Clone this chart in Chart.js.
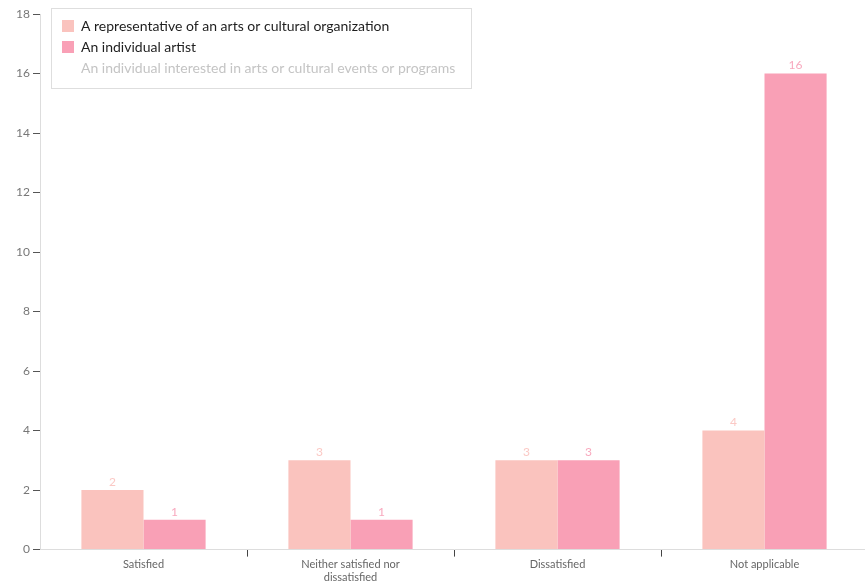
<!DOCTYPE html>
<html>
<head>
<meta charset="utf-8">
<script src="https://cdn.jsdelivr.net/npm/chart.js@4/dist/chart.umd.min.js"></script>
<style>
  html, body { margin: 0; padding: 0; background: #fff; overflow: hidden; }
  #wrap { position: relative; width: 868px; height: 585px; }
</style>
</head>
<body>
<div id="wrap"><canvas id="chart"></canvas></div>
<script>
// Survey responses by respondent type
const categories = ['Satisfied', ['Neither satisfied nor', 'dissatisfied'], 'Dissatisfied', 'Not applicable'];
const seriesNames = [
  'A representative of an arts or cultural organization',
  'An individual artist',
  'An individual interested in arts or cultural events or programs'
];
const orgValues = [2, 3, 3, 4];
const artistValues = [1, 1, 3, 16];
const interestedValues = [null, null, null, null];
const yTicks = [0, 2, 4, 6, 8, 10, 12, 14, 16, 18];

const barColors = ['#FAC3BE', '#F9A0B6', '#D9D9D9'];
const labelColors = ['#FBC9C5', '#F8A9BE', '#CCCCCC'];
const FONT = 'Lato';

// Framed panel behind the legend, and legend placed inside the plot
const legendPanel = {
  id: 'legendPanel',
  afterLayout(chart) {
    const lg = chart.legend;
    const w = lg.width, h = lg.height;
    lg.left = 55; lg.top = 12;
    lg.right = lg.left + w; lg.bottom = lg.top + h;
  },
  beforeDraw(chart) {
    const ctx = chart.ctx;
    ctx.save();
    ctx.fillStyle = '#ffffff';
    ctx.strokeStyle = '#dedede';
    ctx.lineWidth = 1;
    ctx.fillRect(51, 8, 420, 80);
    ctx.strokeRect(51.5, 8.5, 420, 80);
    ctx.restore();
  }
};

// Value labels above each bar
const valueLabels = {
  id: 'valueLabels',
  afterDatasetsDraw(chart) {
    const ctx = chart.ctx;
    ctx.save();
    ctx.font = '12px ' + FONT;
    ctx.textAlign = 'center';
    ctx.textBaseline = 'bottom';
    chart.data.datasets.forEach((ds, di) => {
      const meta = chart.getDatasetMeta(di);
      if (meta.hidden || !chart.isDatasetVisible(di)) return;
      meta.data.forEach((el, i) => {
        const v = ds.data[i];
        if (v === null || v === undefined) return;
        ctx.fillStyle = labelColors[di];
        ctx.fillText(String(v), el.x, el.y - 2);
      });
    });
    ctx.restore();
  }
};

const ctx = document.getElementById('chart');
new Chart(ctx, {
  type: 'bar',
  data: {
    labels: categories,
    datasets: [
      { label: seriesNames[0], data: orgValues, backgroundColor: barColors[0] },
      { label: seriesNames[1], data: artistValues, backgroundColor: barColors[1] },
      { label: seriesNames[2], data: interestedValues, backgroundColor: barColors[2], hidden: true }
    ]
  },
  options: {
    responsive: true,
    maintainAspectRatio: false,
    animation: false,
    layout: { padding: { left: 0, right: 0, top: 14, bottom: 0 } },
    datasets: { bar: { categoryPercentage: 0.6, barPercentage: 1.0, borderWidth: 0 } },
    scales: {
      x: {
        grid: {
          display: true,
          drawOnChartArea: false,
          offset: true,
          tickLength: 7,
          tickColor: (c) => (c.index === 0 ? 'rgba(0,0,0,0)' : '#444444')
        },
        border: { display: true, color: '#dddddd', width: 1 },
        ticks: {
          color: '#666666',
          font: { family: FONT, size: 11 },
          padding: 1,
          maxRotation: 0,
          autoSkip: false
        }
      },
      y: {
        min: 0,
        max: 18,
        afterBuildTicks: (s) => { s.ticks = yTicks.map(v => ({ value: v })); },
        afterFit: (s) => { s.width = 40; },
        grid: {
          display: true,
          drawOnChartArea: false,
          tickLength: 7,
          tickColor: '#555555'
        },
        border: { display: true, color: '#dddddd', width: 1 },
        ticks: {
          color: '#777777',
          font: { family: FONT, size: 12 },
          padding: 3
        }
      }
    },
    plugins: {
      tooltip: { enabled: false },
      legend: {
        position: 'chartArea',
        align: 'start',
        onClick: null,
        labels: {
          boxWidth: 12,
          boxHeight: 12,
          padding: 7,
          font: { family: FONT, size: 14 },
          generateLabels(chart) {
            return chart.data.datasets.map((ds, i) => {
              const hidden = !chart.isDatasetVisible(i);
              return {
                text: ds.label,
                datasetIndex: i,
                hidden: false,
                fillStyle: hidden ? 'rgba(0,0,0,0)' : ds.backgroundColor,
                strokeStyle: 'rgba(0,0,0,0)',
                lineWidth: 0,
                fontColor: hidden ? '#c4c4c4' : '#1e1e1e'
              };
            });
          }
        }
      }
    }
  },
  plugins: [legendPanel, valueLabels]
});
</script>
</body>
</html>
